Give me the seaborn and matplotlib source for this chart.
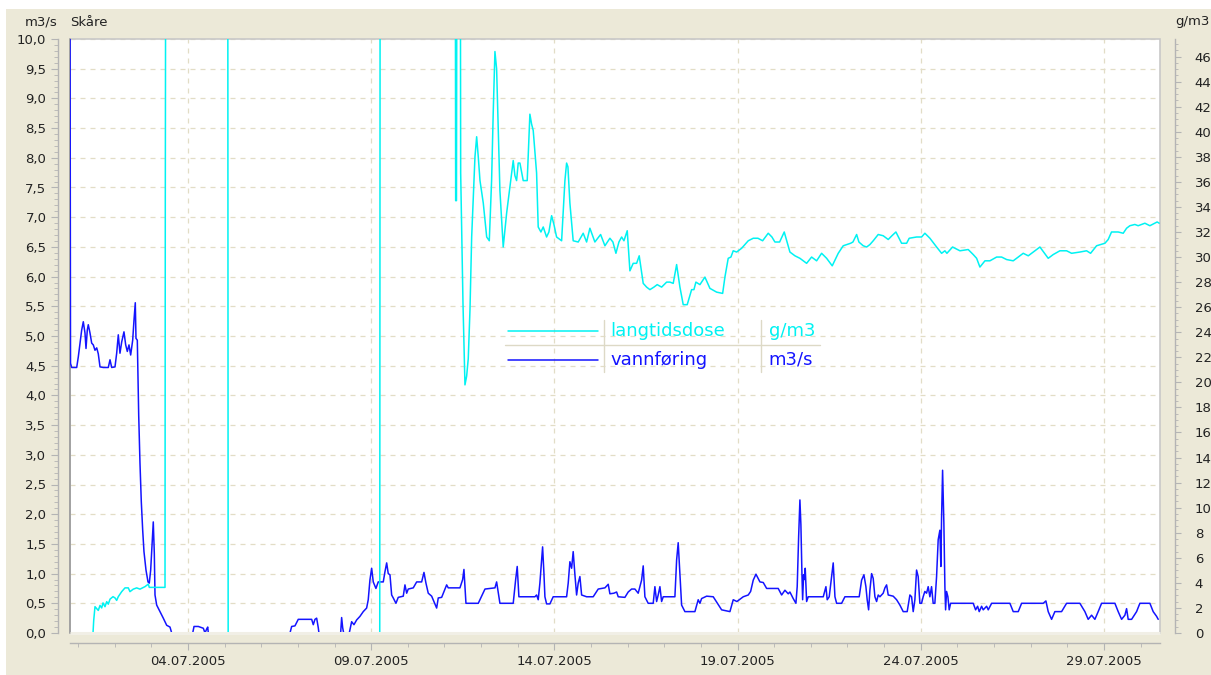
import matplotlib
matplotlib.use("Agg")
from matplotlib import pyplot as plt
import matplotlib.dates as mdates
from matplotlib.ticker import MultipleLocator, FuncFormatter
from matplotlib.patches import Rectangle
import seaborn as sns
import pandas as pd
import numpy as np

# time as decimal day of July 2005
flow_day = [0.780, 0.794, 0.826, 0.963, 1.007, 1.053, 1.099, 1.143, 1.189, 1.217, 1.252, 1.279,
            1.326, 1.372, 1.416, 1.462, 1.509, 1.552, 1.599, 1.689, 1.825, 1.872, 1.918, 2.008,
            2.054, 2.098, 2.144, 2.191, 2.253, 2.300, 2.344, 2.390, 2.436, 2.491, 2.527, 2.562,
            2.581, 2.617, 2.636, 2.655, 2.690, 2.726, 2.764, 2.799, 2.854, 2.909, 2.944, 2.982,
            3.018, 3.053, 3.081, 3.100, 3.146, 3.236, 3.326, 3.419, 3.509, 3.556, 4.129, 4.165,
            4.282, 4.419, 4.465, 4.512, 4.539, 4.555, 6.784, 6.830, 6.920, 7.010, 7.376, 7.420,
            7.466, 7.512, 7.556, 7.575, 8.167, 8.194, 8.222, 8.249, 8.402, 8.467, 8.530, 8.604,
            8.694, 8.784, 8.876, 8.920, 8.966, 9.013, 9.057, 9.130, 9.193, 9.330, 9.376, 9.423,
            9.466, 9.513, 9.559, 9.603, 9.676, 9.739, 9.876, 9.922, 9.969, 10.012, 10.149, 10.242,
            10.378, 10.441, 10.495, 10.558, 10.651, 10.787, 10.831, 10.924, 11.060, 11.104, 11.423,
            11.497, 11.532, 11.587, 11.923, 12.016, 12.106, 12.379, 12.424, 12.468, 12.514, 12.877,
            12.942, 12.986, 13.032, 13.469, 13.515, 13.559, 13.605, 13.652, 13.679, 13.714, 13.742,
            13.788, 13.878, 13.968, 14.334, 14.378, 14.424, 14.471, 14.514, 14.561, 14.607, 14.651,
            14.697, 14.744, 14.880, 15.060, 15.197, 15.380, 15.470, 15.516, 15.625, 15.699, 15.743,
            15.925, 16.015, 16.108, 16.198, 16.288, 16.381, 16.425, 16.471, 16.561, 16.698, 16.744,
            16.791, 16.834, 16.881, 16.927, 16.971, 17.290, 17.337, 17.380, 17.427, 17.473, 17.563,
            17.836, 17.926, 17.973, 18.019, 18.156, 18.336, 18.565, 18.792, 18.882, 18.983, 19.155,
            19.292, 19.357, 19.428, 19.502, 19.611, 19.701, 19.794, 20.110, 20.203, 20.293, 20.383,
            20.429, 20.519, 20.593, 20.628, 20.667, 20.702, 20.729, 20.757, 20.776, 20.803, 20.820,
            20.847, 20.885, 20.929, 21.339, 21.412, 21.447, 21.502, 21.568, 21.611, 21.658, 21.704,
            21.840, 21.930, 22.320, 22.386, 22.449, 22.503, 22.538, 22.577, 22.612, 22.659, 22.702,
            22.749, 22.795, 22.839, 22.885, 22.975, 23.022, 23.068, 23.112, 23.248, 23.341, 23.431,
            23.521, 23.630, 23.704, 23.750, 23.794, 23.840, 23.886, 23.930, 23.976, 24.022, 24.066,
            24.112, 24.159, 24.203, 24.249, 24.295, 24.339, 24.385, 24.432, 24.476, 24.522, 24.549,
            24.568, 24.596, 24.631, 24.659, 24.678, 24.705, 24.741, 24.776, 24.815, 25.432, 25.497,
            25.552, 25.596, 25.661, 25.705, 25.798, 25.842, 25.935, 26.433, 26.524, 26.661, 26.753,
            27.343, 27.416, 27.479, 27.571, 27.661, 27.844, 27.980, 28.343, 28.480, 28.570, 28.663,
            28.753, 28.843, 28.936, 29.299, 29.389, 29.482, 29.572, 29.618, 29.662, 29.755, 29.891,
            29.981, 30.254, 30.344, 30.437, 30.481]
flow_val = [11.0, 4.54, 4.47, 4.47, 4.65, 4.88, 5.10, 5.24, 5.05, 4.79, 5.10, 5.19,
            5.05, 4.88, 4.85, 4.76, 4.80, 4.70, 4.48, 4.47, 4.47, 4.60, 4.47, 4.48,
            4.71, 5.02, 4.71, 4.90, 5.07, 4.85, 4.74, 4.85, 4.68, 4.93, 5.27, 5.56,
            4.96, 4.93, 4.26, 3.67, 2.86, 2.21, 1.73, 1.37, 1.06, 0.86, 0.84, 1.06,
            1.48, 1.87, 1.34, 0.64, 0.47, 0.36, 0.25, 0.13, 0.10, 0.0, 0.0, 0.11,
            0.11, 0.08, 0.0, 0.07, 0.10, 0.0, 0.0, 0.11, 0.12, 0.23, 0.23, 0.14,
            0.23, 0.25, 0.09, 0.0, 0.0, 0.26, 0.09, 0.0, 0.0, 0.19, 0.14, 0.22,
            0.28, 0.36, 0.42, 0.56, 0.89, 1.09, 0.86, 0.75, 0.86, 0.86, 1.03, 1.18,
            1.00, 0.98, 0.64, 0.59, 0.50, 0.60, 0.62, 0.81, 0.67, 0.74, 0.76, 0.86,
            0.86, 1.02, 0.84, 0.67, 0.62, 0.42, 0.59, 0.60, 0.81, 0.76, 0.76,
            0.90, 1.07, 0.50, 0.50, 0.62, 0.74, 0.76, 0.86, 0.68, 0.50, 0.50,
            0.89, 1.12, 0.61, 0.61, 0.64, 0.56, 0.84, 1.23, 1.45, 1.02, 0.61,
            0.49, 0.49, 0.61, 0.61, 0.84, 1.20, 1.09, 1.37, 0.98, 0.64, 0.84,
            0.95, 0.64, 0.61, 0.61, 0.74, 0.76, 0.82, 0.66, 0.67, 0.69, 0.61,
            0.60, 0.69, 0.74, 0.74, 0.67, 0.89, 1.13, 0.61, 0.50, 0.50, 0.78,
            0.53, 0.64, 0.78, 0.53, 0.61, 0.61, 1.23, 1.52, 1.00, 0.47, 0.36,
            0.36, 0.56, 0.50, 0.58, 0.62, 0.61, 0.39, 0.36, 0.56, 0.53, 0.61,
            0.64, 0.70, 0.89, 0.99, 0.86, 0.85, 0.75, 0.75, 0.64, 0.72, 0.66,
            0.69, 0.58, 0.50, 0.78, 1.62, 2.24, 1.82, 1.00, 0.56, 0.98, 0.90,
            1.09, 0.53, 0.61, 0.61, 0.78, 0.56, 0.61, 0.95, 1.18, 0.61, 0.50,
            0.50, 0.61, 0.61, 0.89, 0.98, 0.78, 0.56, 0.39, 0.72, 1.00, 0.92,
            0.61, 0.53, 0.64, 0.61, 0.67, 0.76, 0.81, 0.64, 0.62, 0.56, 0.47,
            0.36, 0.36, 0.64, 0.61, 0.36, 0.56, 1.06, 0.95, 0.50, 0.50, 0.61,
            0.70, 0.67, 0.78, 0.61, 0.78, 0.50, 0.50, 0.95, 1.57, 1.73, 1.12,
            1.93, 2.74, 1.85, 0.78, 0.39, 0.70, 0.61, 0.39, 0.50, 0.50, 0.39,
            0.45, 0.36, 0.45, 0.39, 0.45, 0.39, 0.50, 0.50, 0.36, 0.36, 0.50,
            0.50, 0.54, 0.36, 0.23, 0.36, 0.36, 0.50, 0.50, 0.36, 0.23, 0.30,
            0.23, 0.36, 0.50, 0.50, 0.36, 0.23, 0.30, 0.41, 0.23, 0.23, 0.36,
            0.50, 0.50, 0.36, 0.28, 0.23]

dose_day = [1.408, 1.427, 1.462, 1.552, 1.599, 1.645, 1.681, 1.735, 1.782, 1.825, 1.872, 1.954,
            2.008, 2.054, 2.098, 2.191, 2.281, 2.371, 2.417, 2.507, 2.600, 2.690, 2.827, 2.917,
            2.944, 3.373, 3.381, 3.394, 5.086, 5.097, 9.234, 9.245, 11.295, 11.306, 11.328, 11.342,
            11.432, 11.443, 11.506, 11.560, 11.606, 11.650, 11.697, 11.743, 11.833, 11.879, 11.923,
            11.970, 12.060, 12.153, 12.224, 12.287, 12.331, 12.378, 12.424, 12.468, 12.514, 12.604,
            12.697, 12.787, 12.877, 12.923, 12.969, 13.013, 13.060, 13.150, 13.259, 13.332, 13.379,
            13.423, 13.515, 13.559, 13.633, 13.696, 13.788, 13.851, 13.925, 13.988, 14.061, 14.198,
            14.288, 14.334, 14.370, 14.424, 14.514, 14.651, 14.787, 14.880, 14.970, 15.106, 15.262,
            15.380, 15.516, 15.598, 15.680, 15.762, 15.836, 15.899, 15.989, 16.062, 16.152, 16.245,
            16.316, 16.425, 16.518, 16.608, 16.717, 16.807, 16.927, 17.064, 17.154, 17.244, 17.337,
            17.427, 17.517, 17.626, 17.746, 17.809, 17.863, 17.973, 18.109, 18.246, 18.429, 18.593,
            18.655, 18.745, 18.819, 18.882, 18.975, 19.111, 19.202, 19.292, 19.428, 19.556, 19.684,
            19.837, 19.938, 20.020, 20.148, 20.274, 20.429, 20.566, 20.702, 20.792, 20.885, 21.021,
            21.158, 21.294, 21.431, 21.584, 21.748, 21.884, 22.086, 22.149, 22.250, 22.312, 22.430,
            22.523, 22.613, 22.703, 22.839, 22.975, 23.112, 23.213, 23.322, 23.477, 23.614, 23.685,
            23.887, 24.023, 24.113, 24.250, 24.433, 24.569, 24.659, 24.714, 24.869, 25.069, 25.295,
            25.432, 25.525, 25.615, 25.752, 25.888, 26.071, 26.207, 26.344, 26.524, 26.661, 26.797,
            26.934, 27.070, 27.253, 27.479, 27.616, 27.798, 27.981, 28.117, 28.344, 28.526, 28.636,
            28.799, 29.026, 29.116, 29.207, 29.389, 29.526, 29.618, 29.708, 29.844, 29.934, 30.117,
            30.254, 30.453, 30.508]
dose_val = [0.0, 1.0, 2.1, 1.8, 2.2, 2.0, 2.4, 2.1, 2.5, 2.3, 2.7, 2.9,
            2.8, 2.6, 2.9, 3.3, 3.6, 3.6, 3.3, 3.5, 3.6, 3.5, 3.7, 3.9,
            3.64, 3.64, 34.5, 60.0, 60.0, -1.0, -1.0, 60.0, 60.0, 34.5, 34.5, 60.0,
            60.0, 36.7, 26.3, 19.8, 20.5, 21.9, 25.8, 31.6, 38.0, 39.6, 38.0,
            36.1, 34.3, 31.6, 31.3, 36.1, 41.5, 46.4, 45.0, 40.1, 35.3, 30.8,
            33.5, 35.6, 37.7, 36.5, 36.1, 37.5, 37.5, 36.1, 36.1, 41.4, 40.6,
            40.1, 36.7, 32.4, 32.0, 32.4, 31.6, 32.0, 33.3, 32.6, 31.6, 31.3,
            36.1, 37.5, 37.2, 34.3, 31.3, 31.2, 31.9, 31.2, 32.3, 31.2, 31.8,
            30.9, 31.5, 31.2, 30.3, 31.2, 31.6, 31.3, 32.1, 28.9, 29.5, 29.5,
            30.1, 27.9, 27.6, 27.4, 27.6, 27.8, 27.6, 28.0, 28.0, 27.9, 29.4,
            27.6, 26.2, 26.2, 27.4, 27.4, 28.0, 27.8, 28.4, 27.5, 27.2, 27.1,
            28.4, 29.9, 30.0, 30.5, 30.4, 30.7, 31.0, 31.3, 31.5, 31.5, 31.3,
            31.9, 31.6, 31.2, 31.2, 32.0, 30.4, 30.1, 29.9, 29.7, 29.5, 30.0,
            29.7, 30.3, 29.9, 29.3, 30.3, 30.9, 31.1, 31.2, 31.8, 31.2, 30.9,
            30.8, 31.0, 31.3, 31.8, 31.7, 31.4, 31.7, 32.0, 31.1, 31.1, 31.5,
            31.6, 31.6, 31.9, 31.5, 30.8, 30.3, 30.5, 30.3, 30.8, 30.5, 30.6,
            30.2, 29.9, 29.2, 29.7, 29.7, 30.0, 30.0, 29.8, 29.7, 30.0, 30.3,
            30.1, 30.4, 30.8, 29.9, 30.2, 30.5, 30.5, 30.3, 30.4, 30.5, 30.3,
            30.9, 31.1, 31.4, 32.0, 32.0, 31.9, 32.3, 32.5, 32.6, 32.5, 32.7,
            32.5, 32.8, 32.7]

x_start = 0.78
x_end = 30.53
left_max = 10.0
right_max = 47.4

series_names = ["langtidsdose", "vannføring"]
series_units = ["g/m3", "m3/s"]
cyan = "#00f2f2"
blue = "#1414ff"
beige = "#ece9d8"
txt = "#222222"


def to_time(days):
    return pd.Timestamp("2005-07-01") + pd.to_timedelta(np.array(days) - 1, unit="D")


flow = pd.DataFrame({"tid": to_time(flow_day), "vannføring": flow_val})
dose = pd.DataFrame({"tid": to_time(dose_day), "langtidsdose": dose_val})

sns.set_style("white")
plt.rcParams["font.family"] = ["DejaVu Sans"]

fig = plt.figure(figsize=(12.11, 6.75), dpi=100)
fig.patch.set_facecolor("white")
fig.patches.append(Rectangle((6 / 1211, 0), 1, 1 - 9 / 675, transform=fig.transFigure,
                             facecolor=beige, edgecolor="none", zorder=-10))

ax = fig.add_axes([70 / 1211, 1 - 633 / 675, 1090 / 1211, 594 / 675])
ax.set_facecolor("white")
ax2 = ax.twinx()

sns.lineplot(data=flow, x="tid", y="vannføring", ax=ax, color=blue, lw=1.1, estimator=None)
sns.lineplot(data=dose, x="tid", y="langtidsdose", ax=ax2, color=cyan, lw=1.1, estimator=None)

ax.set_xlim(to_time([x_start])[0], to_time([x_end])[0])
ax.set_ylim(0, left_max)
ax2.set_ylim(0, right_max)
for a in (ax, ax2):
    a.set_xlabel("")
    a.set_ylabel("")

# x axis
ax.xaxis.set_major_locator(mdates.DayLocator(bymonthday=[4, 9, 14, 19, 24, 29]))
ax.xaxis.set_minor_locator(mdates.DayLocator())
ax.xaxis.set_major_formatter(mdates.DateFormatter("%d.%m.%Y"))

# y axes
comma = FuncFormatter(lambda v, p: f"{v:.1f}".replace(".", ","))
ax.yaxis.set_major_locator(MultipleLocator(0.5))
ax.yaxis.set_minor_locator(MultipleLocator(0.1))
ax.yaxis.set_major_formatter(comma)
ax2.yaxis.set_major_locator(MultipleLocator(2))
ax2.yaxis.set_minor_locator(MultipleLocator(0.5))
ax2.set_yticks(np.arange(0, 47, 2))

spine_col = "#b4b4b4"
for s in ax.spines.values():
    s.set_visible(False)
for s in ax2.spines.values():
    s.set_visible(False)
ax.spines["left"].set_visible(True)
ax.spines["left"].set_position(("outward", 9))
ax.spines["bottom"].set_visible(True)
ax.spines["bottom"].set_position(("outward", 7))
ax2.spines["right"].set_visible(True)
ax2.spines["right"].set_position(("outward", 11))
for s in (ax.spines["left"], ax.spines["bottom"], ax2.spines["right"]):
    s.set_color(spine_col)
    s.set_linewidth(1.0)

ax.tick_params(axis="y", which="major", left=True, length=5, width=0.8, color=spine_col,
               labelsize=9.5, labelcolor=txt, pad=3)
ax.tick_params(axis="y", which="minor", left=True, length=3, width=0.6, color=spine_col)
ax.tick_params(axis="x", which="major", bottom=True, length=5, width=0.8, color=spine_col,
               labelsize=9.5, labelcolor=txt, pad=4)
ax.tick_params(axis="x", which="minor", bottom=True, length=3, width=0.6, color=spine_col)
ax2.tick_params(axis="y", which="major", right=True, length=4, width=0.8, color=spine_col,
                labelsize=9.5, labelcolor=txt, pad=10)
ax2.tick_params(axis="y", which="minor", right=True, length=2.5, width=0.6, color=spine_col)

ax.grid(True, which="major", ls=(0, (4, 4)), color="#e2ddc6", lw=0.9)
ax2.grid(False)

# plot frame
ax.add_patch(Rectangle((0, 0), 1, 1, transform=ax.transAxes, fill=False,
                       edgecolor="#c8c8c8", lw=1.2, zorder=1, clip_on=False))
ax.plot([0, 0], [0, 1], transform=ax.transAxes, color="#9a9a9a", lw=1.2, zorder=1, clip_on=False)
# light 3D band along the bottom edge, over the lines
ax2.plot([0, 1], [0, 0], transform=ax2.transAxes, color="#f1efe6", lw=2.2, zorder=6,
         clip_on=False, solid_capstyle="butt")

# table style legend
sep = "#ddd9c6"
rows = [(0.5084, cyan), (0.4596, blue)]
for (yy, col), name, unit in zip(rows, series_names, series_units):
    ax2.plot([0.402, 0.484], [yy, yy], transform=ax2.transAxes, color=col, lw=1.1)
    ax2.text(0.4955, yy, name, transform=ax2.transAxes, color=col, fontsize=13,
             va="center", ha="left")
    ax2.text(0.641, yy, unit, transform=ax2.transAxes, color=col, fontsize=13,
             va="center", ha="left")
ax2.plot([0.399, 0.688], [0.4848, 0.4848], transform=ax2.transAxes, color=sep, lw=1)
for xx in (0.4899, 0.634):
    ax2.plot([xx, xx], [0.439, 0.527], transform=ax2.transAxes, color=sep, lw=1)

# headers
fig.text(57 / 1211, 1 - 22 / 675, "m3/s", ha="right", va="center", fontsize=9.5, color=txt)
fig.text(70 / 1211, 1 - 22 / 675, "Skåre", ha="left", va="center", fontsize=9.5, color=txt)
fig.text(1175 / 1211, 1 - 22 / 675, "g/m3", ha="left", va="center", fontsize=9.5, color=txt)

fig.savefig("out.png", dpi=100, facecolor=fig.get_facecolor())
